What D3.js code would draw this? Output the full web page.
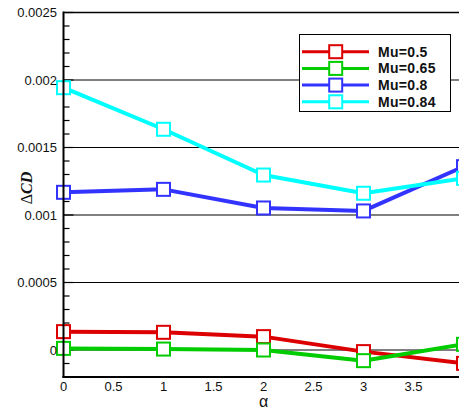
<!DOCTYPE html>
<html>
<head>
<meta charset="utf-8">
<script src="https://cdn.jsdelivr.net/npm/d3@7"></script>
<style>
  html, body { margin: 0; padding: 0; background: #fff; }
  svg { display: block; }
</style>
</head>
<body>
<script>
// Angle of attack samples
const alphas = [0, 1, 2, 3, 4];
// Drag-coefficient increment for each Mach number
const series = ["Mu=0.5", "Mu=0.65", "Mu=0.8", "Mu=0.84"];
const dcdMu050 = [0.000136, 0.000131, 0.000099, -0.000012, -0.000099];
const dcdMu065 = [0.000012, 0.000007, 0.000000, -0.000079, 0.000042];
const dcdMu080 = [0.001168, 0.001190, 0.001052, 0.001030, 0.001358];
const dcdMu084 = [0.001943, 0.001635, 0.001296, 0.001161, 0.001272];
const colors = ["#dd0000", "#00cc00", "#3333ff", "#00ffff"];
const yTicks = [0, 0.0005, 0.001, 0.0015, 0.002, 0.0025];
const xTicks = [0, 0.5, 1, 1.5, 2, 2.5, 3, 3.5];

const W = 459, H = 409;
const svg = d3.select("body").append("svg").attr("width", W).attr("height", H);

const x = d3.scaleLinear().domain([0, 4]).range([63.5, 463.5]);
const y = d3.scaleLinear().domain([0, 0.0025]).range([350, 12.5]);
const yMin = -0.0002;

const font = "Arial, 'Liberation Sans', sans-serif";

// horizontal grid lines
svg.append("g").selectAll("line").data(yTicks.slice(0, -1)).join("line")
  .attr("x1", x(0)).attr("x2", W)
  .attr("y1", d => y(d)).attr("y2", d => y(d))
  .attr("stroke", "#000").attr("stroke-width", 1);

// minor ticks on the left axis
const minor = d3.range(-2, 26).map(i => i * 0.0001);
svg.append("g").selectAll("line").data(minor).join("line")
  .attr("x1", x(0)).attr("x2", d => x(0) + (Math.abs(Math.round(d * 10000)) % 5 === 0 ? 10 : 6))
  .attr("y1", d => y(d)).attr("y2", d => y(d))
  .attr("stroke", "#000").attr("stroke-width", 1.2);

// series lines and markers
const all = [dcdMu050, dcdMu065, dcdMu080, dcdMu084];
const line = d3.line().x((d, i) => x(alphas[i])).y(d => y(d));
const sg = svg.append("g");
all.forEach((vals, k) => {
  sg.append("path").datum(vals).attr("d", line)
    .attr("fill", "none").attr("stroke", colors[k]).attr("stroke-width", 4)
    .attr("stroke-linejoin", "round");
});
all.forEach((vals, k) => {
  sg.append("g").selectAll("rect").data(vals).join("rect")
    .attr("x", (d, i) => x(alphas[i]) - 6.5).attr("y", d => y(d) - 6.5)
    .attr("width", 13).attr("height", 13)
    .attr("fill", "#fff").attr("stroke", colors[k]).attr("stroke-width", 2);
});

// axis frame
svg.append("line").attr("x1", x(0)).attr("x2", x(0)).attr("y1", y(0.0025) - 1).attr("y2", y(yMin) + 1)
  .attr("stroke", "#000").attr("stroke-width", 2);
svg.append("line").attr("x1", x(0)).attr("x2", W).attr("y1", y(0.0025)).attr("y2", y(0.0025))
  .attr("stroke", "#000").attr("stroke-width", 1.5);
svg.append("line").attr("x1", x(0) - 1).attr("x2", W).attr("y1", y(yMin)).attr("y2", y(yMin))
  .attr("stroke", "#000").attr("stroke-width", 2);

// y tick labels
const fmtY = d => d === 0 ? "0" : String(+d.toFixed(4));
svg.append("g").selectAll("text").data(yTicks).join("text")
  .attr("x", 57).attr("y", d => y(d) + 4.5)
  .attr("text-anchor", "end").attr("font-family", font).attr("font-size", 13).attr("fill", "#111")
  .text(fmtY);

// x tick labels
svg.append("g").selectAll("text").data(xTicks).join("text")
  .attr("x", d => x(d)).attr("y", 391)
  .attr("text-anchor", "middle").attr("font-family", font).attr("font-size", 13).attr("fill", "#111")
  .text(d => String(d));

// axis titles
svg.append("text").attr("x", x(2)).attr("y", 407).attr("text-anchor", "middle")
  .attr("font-family", font).attr("font-size", 16).attr("fill", "#111").text("α");
const yl = svg.append("text").attr("transform", "translate(32,188) rotate(-90)")
  .attr("text-anchor", "middle").attr("font-family", "'Liberation Serif', 'DejaVu Serif', serif")
  .attr("font-size", 16).attr("fill", "#111");
yl.append("tspan").text("Δ");
yl.append("tspan").attr("font-style", "italic").attr("font-weight", "bold").text("CD");

// legend
const lg = svg.append("g");
lg.append("rect").attr("x", 299.5).attr("y", 34.5).attr("width", 151).attr("height", 77)
  .attr("fill", "#fff").attr("stroke", "#000").attr("stroke-width", 1);
series.forEach((name, k) => {
  const cy = 51.7 + k * 16.7;
  lg.append("line").attr("x1", 302).attr("x2", 369).attr("y1", cy).attr("y2", cy)
    .attr("stroke", colors[k]).attr("stroke-width", 3);
  lg.append("rect").attr("x", 335.7 - 6.5).attr("y", cy - 6.5).attr("width", 13).attr("height", 13)
    .attr("fill", "#fff").attr("stroke", colors[k]).attr("stroke-width", 2);
  lg.append("text").attr("x", 378).attr("y", cy + 5).attr("font-family", font)
    .attr("font-size", 14).attr("font-weight", "bold").attr("letter-spacing", 0.3)
    .attr("fill", "#111").text(name);
});
</script>
</body>
</html>
